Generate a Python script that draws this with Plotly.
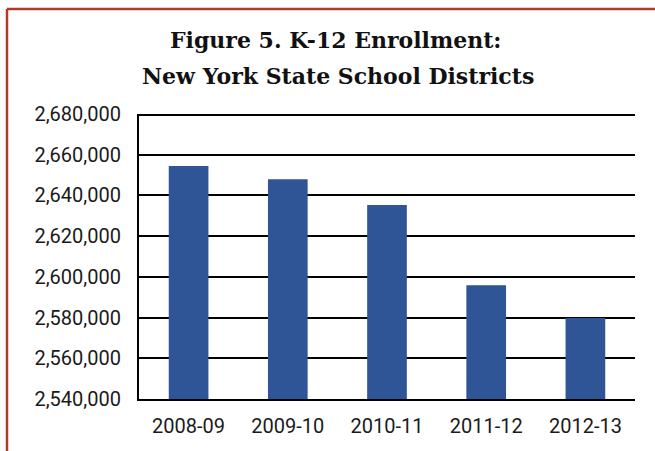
import plotly.graph_objects as go

# K-12 enrollment by school year
years = ["2008-09", "2009-10", "2010-11", "2011-12", "2012-13"]
enrollment = [2654400, 2647900, 2635300, 2595900, 2579800]

y_ticks = [2540000, 2560000, 2580000, 2600000, 2620000, 2640000, 2660000, 2680000]
y_tick_text = ["2,540,000", "2,560,000", "2,580,000", "2,600,000",
               "2,620,000", "2,640,000", "2,660,000", "2,680,000"]

W, H = 655, 451
L, R, T, B = 139, 20, 114, 52
pw, ph = W - L - R, H - T - B


def px_x(x):
    return (x - L) / pw


def px_y(y):
    return 1 - (y - T) / ph


fig = go.Figure(go.Bar(
    x=years, y=enrollment,
    marker=dict(color="#2F5597", line=dict(width=0)),
    width=0.4,
))

border = "#B3392F"
title_font = dict(family="DejaVu Serif", size=22, color="#111111")
fig.update_layout(
    width=W, height=H,
    margin=dict(l=L, r=R, t=T, b=B),
    paper_bgcolor="white", plot_bgcolor="white",
    showlegend=False,
    font=dict(family="Roboto", color="#1a1a1a", size=20),
    annotations=[
        dict(text="<b>Figure 5. K-12 Enrollment:</b>", xref="paper", yref="paper",
             x=px_x(335), y=px_y(40), xanchor="center", yanchor="middle",
             showarrow=False, font=title_font),
        dict(text="<b>New York State School Districts</b>", xref="paper", yref="paper",
             x=px_x(338), y=px_y(76), xanchor="center", yanchor="middle",
             showarrow=False, font=title_font),
    ],
    shapes=[
        dict(type="line", xref="paper", yref="paper", x0=px_x(7), x1=px_x(7),
             y0=px_y(9), y1=px_y(H + 5), line=dict(color=border, width=2.5)),
        dict(type="line", xref="paper", yref="paper", x0=px_x(7), x1=px_x(W + 5),
             y0=px_y(9), y1=px_y(9), line=dict(color=border, width=2.5)),
        # top gridline along the upper edge of the plot
        dict(type="line", xref="paper", yref="paper", x0=-0.002, x1=1,
             y0=px_y(T + 1), y1=px_y(T + 1), line=dict(color="black", width=2)),
    ],
)

fig.update_xaxes(
    type="category",
    showline=True, linecolor="black", linewidth=2,
    ticks="outside", ticklen=8, tickcolor="rgba(0,0,0,0)",
    tickfont=dict(size=20),
)
fig.update_yaxes(
    range=[2540000, 2680000],
    tickvals=y_ticks, ticktext=y_tick_text,
    showline=True, linecolor="black", linewidth=2,
    showgrid=True, gridcolor="black", gridwidth=2,
    ticks="outside", ticklen=12, tickcolor="rgba(0,0,0,0)",
    tickfont=dict(size=20),
    zeroline=False,
)

fig.write_html("out.html")
